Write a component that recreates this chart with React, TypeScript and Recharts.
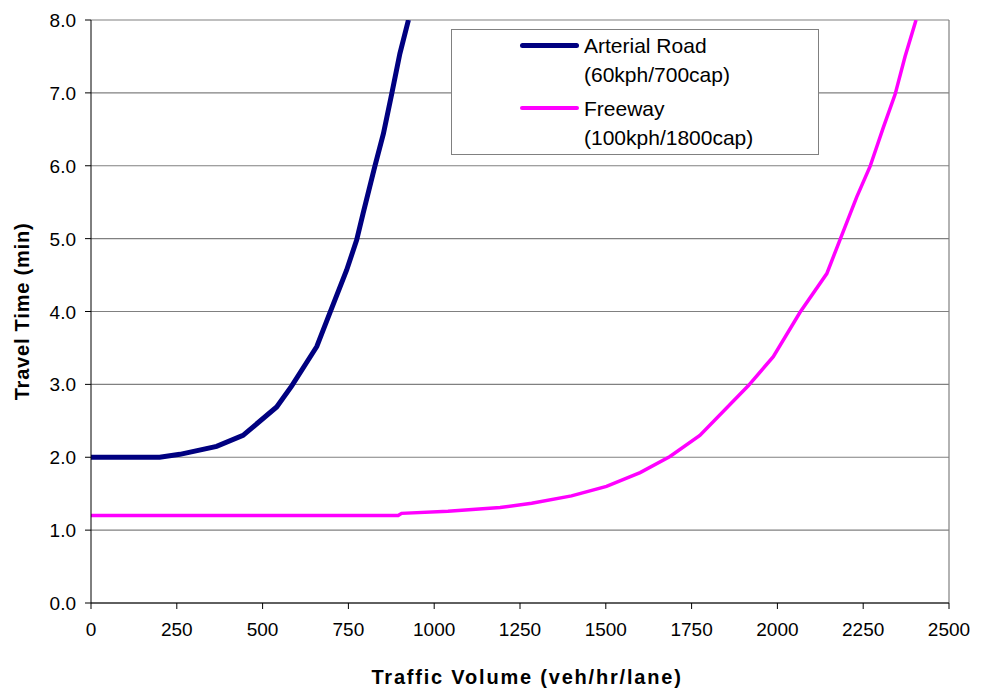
import {
  LineChart,
  Line,
  XAxis,
  YAxis,
  CartesianGrid,
  ReferenceLine,
} from "recharts";

// Arterial road (60kph / 700 cap)
const arterialVolume = [0, 200, 259, 366, 443, 541, 585, 658, 696, 745, 774, 793, 827, 852, 876, 900, 925];
const arterialTime = [2.0, 2.0, 2.04, 2.15, 2.3, 2.69, 2.98, 3.52, 3.98, 4.57, 4.98, 5.35, 5.99, 6.44, 6.98, 7.54, 8.0];

// Freeway (100kph / 1800 cap)
const freewayVolume = [0, 895, 905, 1040, 1192, 1284, 1400, 1502, 1600, 1687, 1774, 1915, 1988, 2066, 2144, 2182, 2231, 2270, 2309, 2343, 2372, 2404];
const freewayTime = [1.2, 1.2, 1.23, 1.26, 1.31, 1.37, 1.47, 1.6, 1.79, 2.01, 2.3, 2.98, 3.38, 3.99, 4.52, 4.98, 5.57, 5.99, 6.53, 6.98, 7.5, 8.0];

const xTicks = [0, 250, 500, 750, 1000, 1250, 1500, 1750, 2000, 2250, 2500];
const yTicks = [0, 1, 2, 3, 4, 5, 6, 7, 8];

const arterialData = arterialVolume.map((v, i) => ({ volume: v, time: arterialTime[i] }));
const freewayData = freewayVolume.map((v, i) => ({ volume: v, time: freewayTime[i] }));

const FONT = "'Liberation Sans', Arial, sans-serif";

const legendItems = [
  { color: "#000080", width: 5, lines: ["Arterial Road", "(60kph/700cap)"] },
  { color: "#FF00FF", width: 4, lines: ["Freeway", "(100kph/1800cap)"] },
];

// tick renderers so the font size actually sticks
function XTick(props: any) {
  const { x, y, payload } = props;
  return (
    <text x={x} y={y + 25} textAnchor="middle" fontSize={19} fontFamily={FONT} fill="#000">
      {payload.value}
    </text>
  );
}

function YTick(props: any) {
  const { x, y, payload } = props;
  return (
    <text x={x - 1} y={y + 7} textAnchor="end" fontSize={19} fontFamily={FONT} fill="#000">
      {Number(payload.value).toFixed(1)}
    </text>
  );
}

// boxed legend sitting inside the plot, like the Excel original
function ChartLegend() {
  return (
    <div
      style={{
        position: "absolute",
        left: 443,
        top: 21,
        width: 368,
        height: 126,
        border: "1px solid #808080",
        background: "#fff",
        boxSizing: "border-box",
        paddingTop: 1,
        fontFamily: FONT,
        fontSize: 21,
        color: "#000",
      }}
    >
      {legendItems.map((item) => (
        <div key={item.lines[0]} style={{ display: "flex", marginBottom: 5 }}>
          <div style={{ width: 68, marginLeft: 64, position: "relative" }}>
            <div
              style={{
                position: "absolute",
                left: 4,
                right: 5,
                top: 12,
                height: item.width,
                borderRadius: 3,
                background: item.color,
              }}
            />
          </div>
          <div style={{ lineHeight: "29px" }}>
            {item.lines.map((l) => (
              <div key={l}>{l}</div>
            ))}
          </div>
        </div>
      ))}
    </div>
  );
}

export default function App() {
  return (
    <div style={{ width: 965, height: 680, background: "#fff", position: "relative" }}>
      <LineChart width={965} height={680} margin={{ top: 12, right: 24, left: 0, bottom: 0 }}>
        <CartesianGrid horizontal vertical={false} stroke="#808080" strokeWidth={1.2} />
        <XAxis
          type="number"
          dataKey="volume"
          domain={[0, 2500]}
          ticks={xTicks}
          allowDataOverflow
          height={85}
          stroke="#000"
          tickSize={6}
          tickMargin={2}
          tick={<XTick />}
          label={{
            value: "Traffic Volume (veh/hr/lane)",
            position: "insideBottom",
            offset: 4,
            dx: 7,
            style: { fill: "#000", fontSize: 20, fontWeight: "bold", fontFamily: FONT, letterSpacing: 1.8 },
          }}
        />
        <YAxis
          type="number"
          dataKey="time"
          domain={[0, 8]}
          ticks={yTicks}
          allowDataOverflow
          width={83}
          stroke="#000"
          tickSize={6}
          tickMargin={8}
          tick={<YTick />}
          label={{
            value: "Travel Time (min)",
            angle: -90,
            position: "center",
            dx: -28,
            style: { fill: "#000", fontSize: 20, fontWeight: "bold", fontFamily: FONT, textAnchor: "middle", letterSpacing: 0.8 },
          }}
        />
        <ReferenceLine x={2500} stroke="#808080" strokeWidth={1.2} />
        <Line
          data={arterialData}
          dataKey="time"
          name="Arterial Road (60kph/700cap)"
          type="linear"
          stroke="#000080"
          strokeWidth={5}
          dot={false}
          isAnimationActive={false}
        />
        <Line
          data={freewayData}
          dataKey="time"
          name="Freeway (100kph/1800cap)"
          type="linear"
          stroke="#FF00FF"
          strokeWidth={3.5}
          dot={false}
          isAnimationActive={false}
        />
      </LineChart>
      <ChartLegend />
    </div>
  );
}
